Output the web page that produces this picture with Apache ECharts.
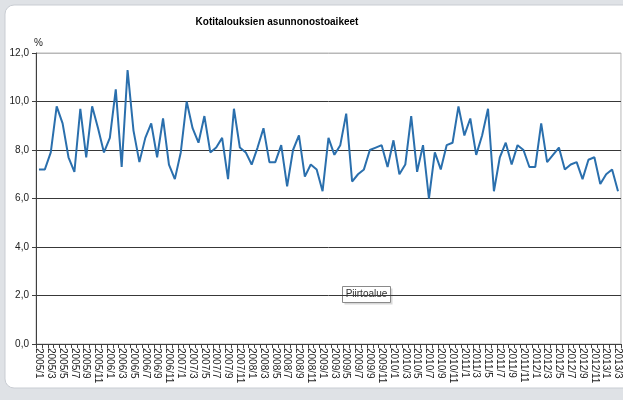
<!DOCTYPE html>
<html>
<head>
<meta charset="utf-8">
<script src="https://cdn.jsdelivr.net/npm/echarts@6/dist/echarts.min.js"></script>
<style>
html,body{margin:0;padding:0;background:#dfe2e6;}
#chart{width:623px;height:400px;}
</style>
</head>
<body>
<div id="chart"></div>
<script>
var titleText = 'Kotitalouksien asunnonostoaikeet';
var startYear = 2005, startMonth = 1, monthCount = 99;
var categories = [];
for (var i = 0; i < monthCount; i++) {
  var m = startMonth - 1 + i;
  categories.push((startYear + Math.floor(m / 12)) + '/' + (m % 12 + 1));
}
var values = [
  7.2, 7.2, 7.9, 9.8, 9.1, 7.7, 7.1, 9.7, 7.7, 9.8, 8.9, 7.9, 8.5, 10.5, 7.3, 11.3,
  8.8, 7.5, 8.5, 9.1, 7.7, 9.3, 7.4, 6.8, 7.9, 10.0, 8.9, 8.3, 9.4, 7.9, 8.1, 8.5, 6.8,
  9.7, 8.1, 7.9, 7.4, 8.1, 8.9, 7.5, 7.5, 8.2, 6.5, 8.0, 8.6, 6.9, 7.4, 7.2, 6.3,
  8.5, 7.8, 8.2, 9.5, 6.7, 7.0, 7.2, 8.0, 8.1, 8.2, 7.3, 8.4, 7.0, 7.4, 9.4, 7.1,
  8.2, 6.0, 7.9, 7.2, 8.2, 8.3, 9.8, 8.6, 9.3, 7.8, 8.6, 9.7, 6.3, 7.7, 8.3, 7.4,
  8.2, 8.0, 7.3, 7.3, 9.1, 7.5, 7.8, 8.1, 7.2, 7.4, 7.5, 6.8, 7.6, 7.7, 6.6, 7.0,
  7.2, 6.3
];
var yTicks = [0, 2, 4, 6, 8, 10, 12];
var tooltipLabel = 'Piirtoalue';

var chart = echarts.init(document.getElementById('chart'), null, {renderer: 'canvas'});
chart.setOption({
  backgroundColor: '#dfe2e6',
  animation: false,
  textStyle: {fontFamily: 'Liberation Sans, Arial, sans-serif'},
  title: {
    text: titleText,
    left: 272, top: 12, textAlign: 'center',
    textStyle: {fontSize: 10, fontWeight: 'bold', color: '#000', fontFamily: 'Liberation Sans, Arial, sans-serif'}
  },
  grid: {left: 36, right: 1, top: 53, bottom: 56, show: true, borderColor: '#b8b8b8', borderWidth: 1, backgroundColor: 'transparent'},
  xAxis: {
    type: 'category',
    data: categories,
    boundaryGap: true,
    axisLine: {lineStyle: {color: '#404040', width: 1}},
    axisTick: {show: true, interval: 0, length: 4, lineStyle: {color: '#404040'}},
    axisLabel: {interval: 1, rotate: -90, fontSize: 10, color: '#222', margin: 4}
  },
  yAxis: {
    type: 'value',
    min: yTicks[0], max: yTicks[yTicks.length - 1], interval: 2,
    name: '%',
    nameLocation: 'end',
    nameGap: 4,
    nameTextStyle: {fontSize: 10, color: '#222', align: 'left', verticalAlign: 'bottom', padding: [0, 0, 0, -2]},
    axisLine: {show: true, lineStyle: {color: '#404040'}},
    axisTick: {show: true, length: 4, lineStyle: {color: '#404040'}},
    axisLabel: {fontSize: 10, color: '#222', margin: 7, formatter: function (v) { return v.toFixed(1).replace('.', ','); }},
    splitLine: {show: true, lineStyle: {color: ['#383838', '#383838', '#383838', '#383838', '#383838', '#383838', '#b8b8b8'], width: 1}}
  },
  series: [{
    type: 'line',
    data: values,
    showSymbol: false,
    symbol: 'none',
    lineStyle: {color: '#2a6fad', width: 2},
    z: 5
  }],
  graphic: [
    {type: 'rect', z: -100, shape: {x: 5, y: 5, width: 660, height: 383, r: 9}, style: {fill: '#ffffff', stroke: '#c9cdd3', lineWidth: 1}},
    {type: 'group', z: 100, left: 342, top: 286, children: [
      {type: 'rect', shape: {x: 2, y: 2, width: 48, height: 16}, style: {fill: '#d8d8d8'}},
      {type: 'rect', shape: {x: 0, y: 0, width: 48, height: 16}, style: {fill: '#ffffff', stroke: '#8a8a8a', lineWidth: 1}},
      {type: 'text', x: 24, y: 8, style: {text: tooltipLabel, fontSize: 10, fill: '#333', align: 'center', verticalAlign: 'middle', fontFamily: 'Liberation Sans, Arial, sans-serif'}}
    ]}
  ]
});
</script>
</body>
</html>
